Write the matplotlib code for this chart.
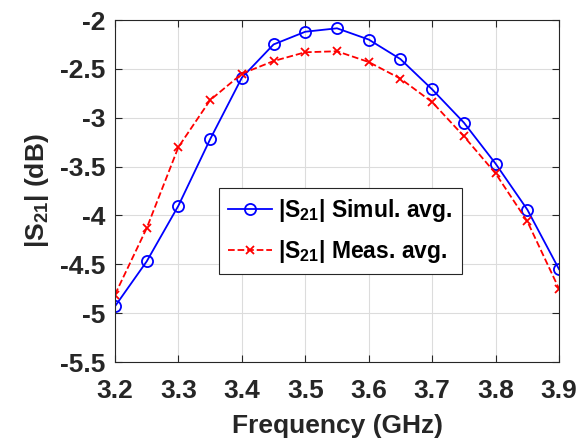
import matplotlib.pyplot as plt

plt.rcParams['font.family'] = 'Liberation Sans'
plt.rcParams['font.weight'] = 'bold'
plt.rcParams['mathtext.fontset'] = 'custom'
plt.rcParams['mathtext.rm'] = 'Liberation Sans:bold'
plt.rcParams['mathtext.bf'] = 'Liberation Sans:bold'
plt.rcParams['mathtext.it'] = 'Liberation Sans:bold'

freq = [3.2, 3.25, 3.3, 3.35, 3.4, 3.45, 3.5, 3.55, 3.6, 3.65, 3.7, 3.75, 3.8, 3.85, 3.9]
s21_sim = [-4.93, -4.47, -3.90, -3.22, -2.59, -2.25, -2.12, -2.085, -2.20, -2.40,
           -2.71, -3.05, -3.47, -3.94, -4.55]
s21_meas = [-4.81, -4.13, -3.30, -2.82, -2.55, -2.42, -2.33, -2.32, -2.43, -2.60,
            -2.84, -3.19, -3.57, -4.06, -4.75]

xticks = [3.2, 3.3, 3.4, 3.5, 3.6, 3.7, 3.8, 3.9]
yticks = [-5.5, -5, -4.5, -4, -3.5, -3, -2.5, -2]

fig = plt.figure(figsize=(5.87, 4.4), dpi=100)
ax = fig.add_axes([115 / 587, 1 - 362 / 440, 444 / 587, 342 / 440])

ax.plot(freq, s21_sim, '-o', color='blue', lw=1.3, ms=8, mfc='none', mew=1.3,
        label=r'$\mathregular{|S_{21}|}$ Simul. avg.')
ax.plot(freq, s21_meas, '--x', color='red', lw=1.3, ms=6, mew=1.3,
        label=r'$\mathregular{|S_{21}|}$ Meas. avg.')

ax.set_xlim(3.2, 3.9)
ax.set_ylim(-5.5, -2)
ax.set_xticks(xticks)
ax.set_yticks(yticks)
ax.set_xticklabels([f'{t:g}' for t in xticks], fontweight='bold')
ax.set_yticklabels([f'{t:g}' for t in yticks], fontweight='bold')
ax.tick_params(axis='both', direction='in', top=True, right=True, labelsize=19,
               colors='#262626', length=5)
ax.tick_params(axis='x', pad=12)
ax.tick_params(axis='y', pad=7)
ax.grid(True, color='#dcdcdc', lw=0.8)
for s in ax.spines.values():
    s.set_color('#262626')
    s.set_linewidth(0.8)

ax.set_xlabel('Frequency (GHz)', fontsize=19, fontweight='bold', color='#262626',
              labelpad=8)
ax.set_ylabel(r'$\mathregular{|S_{21}|}$ (dB)', fontsize=19, fontweight='bold',
              color='#262626', labelpad=6)

leg = ax.legend(loc='upper left', bbox_to_anchor=(0.234, 0.509), fontsize=16.5,
                fancybox=False, edgecolor='#262626', framealpha=1, borderaxespad=0,
                handlelength=1.9, borderpad=0.4, labelspacing=0.6, handletextpad=0.3)
leg.get_frame().set_linewidth(0.8)

fig.savefig('out.png', dpi=100)
